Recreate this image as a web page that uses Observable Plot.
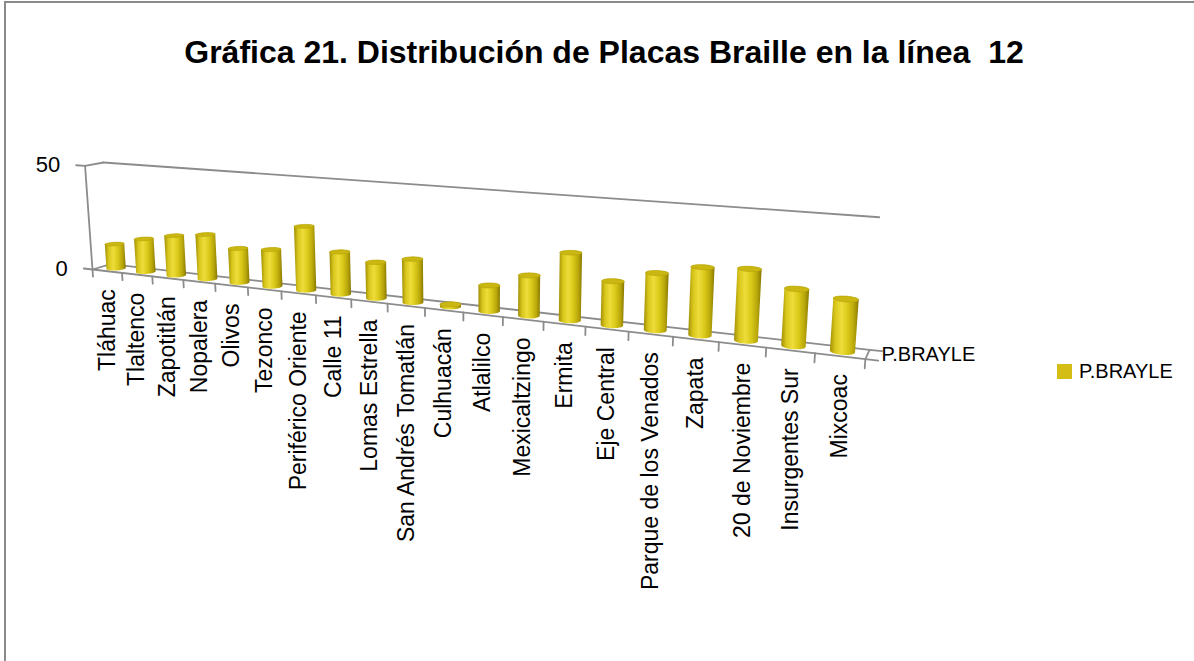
<!DOCTYPE html>
<html><head><meta charset="utf-8">
<script src="https://cdn.jsdelivr.net/npm/d3@7"></script>
<script src="https://cdn.jsdelivr.net/npm/@observablehq/plot@0.6"></script>
<style>
html,body{margin:0;padding:0;background:#fff;overflow:hidden;width:1194px;height:661px;}
#frame{position:absolute;left:4px;top:1px;width:1400px;height:900px;border-top:2px solid #8a8a8a;border-left:2px solid #8a8a8a;}
#chart{position:absolute;left:0;top:0;}
#title{position:absolute;left:0;top:32px;width:1208px;text-align:center;font:bold 32px "Liberation Sans",Arial,sans-serif;white-space:pre;line-height:40px;color:#000;}
#legend{position:absolute;left:1057px;top:360px;font:20px "Liberation Sans",Arial,sans-serif;display:flex;align-items:center;gap:7px;color:#000;}
#legend .sw{display:inline-block;width:15px;height:15px;background:#d4bd14;}
</style></head><body>
<div id="frame"></div>
<div id="chart"></div>
<div id="title">Gráfica 21. Distribución de Placas Braille en la línea  12</div>
<div id="legend"><span class="sw"></span><span id="legtext"></span></div>
<script>
// ---- data ----
const categories = ["Tláhuac","Tlaltenco","Zapotitlán","Nopalera","Olivos","Tezonco","Periférico Oriente","Calle 11","Lomas Estrella","San Andrés Tomatlán","Culhuacán","Atlalilco","Mexicaltzingo","Ermita","Eje Central","Parque de los Venados","Zapata","20 de Noviembre","Insurgentes Sur","Mixcoac"];
const values = [12,16,19,21,16,17,29,19,16,19,1,11,17,28,18,23,27,28,22,20];
const seriesName = "P.BRAYLE";
const valueTicks = [0, 50];
const valueMax = 50;

// ---- 3D view settings (like a 3-D column chart rotation/perspective) ----
const view = {yaw: 24, pitch: 12.5, eye: [-10.448, -0.2423, 32.393], depth: 0.7126, wallHeight: 2.809, focal: 1203, center: [480, 260], radius: 0.25};
const yawR = view.yaw * Math.PI / 180, pitchR = view.pitch * Math.PI / 180;
const cyw = Math.cos(yawR), syw = Math.sin(yawR), cpt = Math.cos(pitchR), spt = Math.sin(pitchR);
function project(a, b, c) {
  const right = a * cyw + c * syw;
  const fwd = -a * syw + c * cyw;
  const xc = view.eye[0] + right;
  const yc = view.eye[1] + b * cpt + fwd * spt;
  const zc = view.eye[2] + fwd * cpt - b * spt;
  return {X: xc / zc, Y: yc / zc};
}
// category position, value, depth fraction
const P = (cat, value, depthFrac) => project(cat, value / valueMax * view.wallHeight, depthFrac * view.depth);
const n = categories.length;
const data = categories.map((name, i) => ({name, value: values[i]}));

// frame edges / ticks
const edges = [];
function seg(id, p0, p1) {
  edges.push({id, ...P(...p0)});
  edges.push({id, ...P(...p1)});
}
seg("floorFront", [0, 0, 0], [n, 0, 0]);
seg("floorBack", [0, 0, 1], [n, 0, 1]);
seg("floorLeft", [0, 0, 0], [0, 0, 1]);
seg("depthAxis", [n, 0, 0], [n, 0, 1]);
seg("wallEdge", [0, 0, 0], [0, valueMax, 0]);
seg("sideTop", [0, valueMax, 0], [0, valueMax, 1]);
seg("backTop", [0, valueMax, 1], [n, valueMax, 1]);
valueTicks.forEach(v => seg("vt" + v, [0, v, 0], [-0.3, v, 0]));
d3.range(n + 1).forEach(k => seg("ct" + k, [k, 0, 0], [k, -3.5, 0]));
[0, 1].forEach(w => seg("dt" + w, [n, 0, w], [n + 0.25, 0, w]));

// cylinders
const bodies = [], caps = [];
data.forEach((d, i) => {
  const a0 = i + 0.5, c0 = view.depth / 2, h = d.value / valueMax * view.wallHeight;
  const ring = b => d3.range(60).map(k => {
    const t = 2 * Math.PI * k / 60;
    return project(a0 + view.radius * Math.cos(t), b, c0 + view.radius * Math.sin(t));
  });
  const bottom = ring(0), top = ring(h);
  const hull = d3.polygonHull([...bottom, ...top].map(p => [p.X, p.Y]));
  hull.push(hull[0]);
  hull.forEach(([X, Y]) => bodies.push({name: d.name, X, Y}));
  top.push(top[0]);
  top.forEach(p => caps.push({name: d.name, ...p}));
});

const catLabels = data.map((d, i) => ({text: d.name, ...P(i + 0.5, 0, 0)}));
const valLabels = valueTicks.map(v => ({text: String(v), ...P(-0.3, v, 0)}));
const depthLabel = [{text: seriesName, ...P(n, 0, 0.5)}];

const defs = () => {
  const g = d3.create("svg:g");
  const lg = g.append("defs").append("linearGradient").attr("id", "cyl")
    .attr("x1", "0%").attr("x2", "100%").attr("y1", "0%").attr("y2", "0%");
  [[0, "#a08e06"], [0.18, "#d8c61c"], [0.4, "#eedd3a"], [0.62, "#dac919"], [0.84, "#b8a60a"], [1, "#887800"]]
    .forEach(([o, c]) => lg.append("stop").attr("offset", o).attr("stop-color", c));
  return g.node();
};

const font = "Liberation Sans, Arial, sans-serif";
const [cx, cy] = view.center, f = view.focal;
const chart = Plot.plot({
  width: 1194, height: 661, margin: 0,
  x: {domain: [-1, 1], range: [cx - f, cx + f], axis: null},
  y: {domain: [-1, 1], range: [cy + f, cy - f], axis: null},
  style: {background: "transparent", overflow: "visible"},
  marks: [
    defs,
    Plot.line(edges, {x: "X", y: "Y", z: "id", stroke: "#8c8c8c", strokeWidth: 1.8}),
    Plot.line(bodies, {x: "X", y: "Y", z: "name", fill: "url(#cyl)", stroke: "none"}),
    Plot.line(caps, {x: "X", y: "Y", z: "name", fill: "#cab712", stroke: "#b5a20a", strokeWidth: 0.6}),
    Plot.text(catLabels, {x: "X", y: "Y", text: "text", rotate: -90, textAnchor: "end", dy: 18, fontSize: 23, fontFamily: font, fill: "#000"}),
    Plot.text(valLabels, {x: "X", y: "Y", text: "text", textAnchor: "end", dx: -16, fontSize: 22, fontFamily: font, fill: "#000"}),
    Plot.text(depthLabel, {x: "X", y: "Y", text: "text", textAnchor: "start", dx: 14, fontSize: 20, fontFamily: font, fill: "#000"})
  ]
});
document.getElementById("chart").appendChild(chart);
document.getElementById("legtext").textContent = seriesName;
</script></body></html>
